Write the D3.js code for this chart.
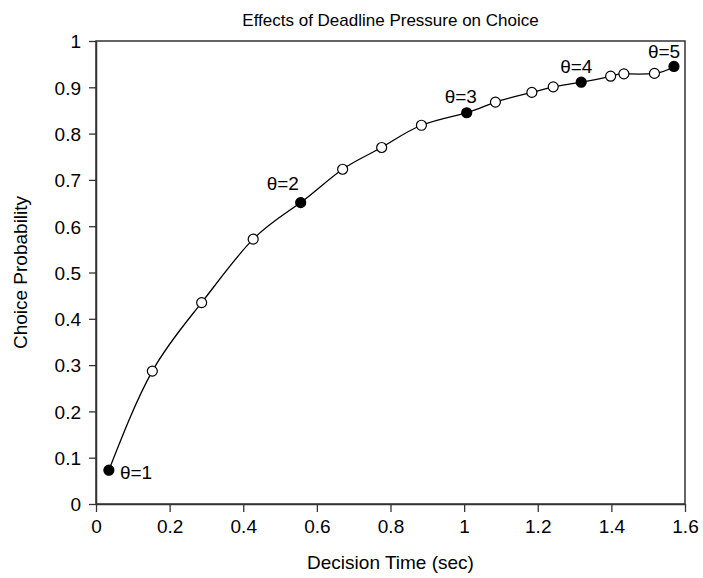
<!DOCTYPE html>
<html>
<head>
<meta charset="utf-8">
<script src="https://cdn.jsdelivr.net/npm/d3@7"></script>
<style>
  body { margin: 0; background: #fff; }
  svg text { font-family: "Liberation Sans", Arial, Helvetica, sans-serif; fill: #000; }
</style>
</head>
<body>
<svg id="chart" width="703" height="578"></svg>
<script>
// Data
var decision_time = [0.035, 0.153, 0.287, 0.427, 0.556, 0.670, 0.776, 0.884, 1.007, 1.085, 1.184, 1.242, 1.318, 1.398, 1.434, 1.517, 1.570]
var choice_prob   = [0.073, 0.287, 0.435, 0.572, 0.651, 0.723, 0.770, 0.818, 0.845, 0.868, 0.889, 0.901, 0.911, 0.924, 0.929, 0.930, 0.945]
// theta value for filled points, null for open ones
var theta = [1, null, null, null, 2, null, null, null, 3, null, null, null, 4, null, null, null, 5]

var x_ticks = [0, 0.2, 0.4, 0.6, 0.8, 1, 1.2, 1.4, 1.6]
var y_ticks = [0, 0.1, 0.2, 0.3, 0.4, 0.5, 0.6, 0.7, 0.8, 0.9, 1]

var title_text = 'Effects of Deadline Pressure on Choice'
var x_title = 'Decision Time (sec)'
var y_title = 'Choice Probability'

// Layout
var margin = {left: 96, right: 18, top: 41, bottom: 74}
var width = 703, height = 578

var svg = d3.select('#chart')

var x = d3.scaleLinear()
  .domain([0, 1.6])
  .range([margin.left, width - margin.right])
var y = d3.scaleLinear()
  .domain([0, 1])
  .range([height - margin.bottom, margin.top])

var points = decision_time.map(function(t, i) {
  return {t: t, p: choice_prob[i], theta: theta[i]}
})

// Frame
svg.append('rect')
  .attr('x', x(0))
  .attr('y', y(1))
  .attr('width', x(1.6) - x(0))
  .attr('height', y(0) - y(1))
  .attr('fill', 'none')
  .attr('stroke', '#333')
  .attr('stroke-width', 1.5)

// Axes
var x_axis = svg.append('g')
  .attr('transform', 'translate(0,' + y(0) + ')')
  .call(d3.axisBottom(x).tickValues(x_ticks).tickFormat(d3.format('')).tickSize(8).tickSizeOuter(0).tickPadding(8))
var y_axis = svg.append('g')
  .attr('transform', 'translate(' + x(0) + ',0)')
  .call(d3.axisLeft(y).tickValues(y_ticks).tickFormat(d3.format('')).tickSize(7).tickSizeOuter(0).tickPadding(8))

;[x_axis, y_axis].forEach(function(ax) {
  ax.select('.domain').attr('stroke', '#333').attr('stroke-width', 1.5)
  ax.selectAll('.tick line').attr('stroke', '#333').attr('stroke-width', 1.3)
  ax.selectAll('.tick text')
    .attr('font-size', 19)
    .attr('font-family', '"Liberation Sans", Arial, sans-serif')
    .attr('fill', '#000')
})
y_axis.selectAll('.tick text').attr('dy', '0.36em')

// Titles
svg.append('text')
  .text(title_text)
  .attr('x', (x(0) + x(1.6)) / 2)
  .attr('y', 26)
  .attr('text-anchor', 'middle')
  .attr('font-size', 17)

svg.append('text')
  .text(x_title)
  .attr('x', (x(0) + x(1.6)) / 2)
  .attr('y', 569)
  .attr('text-anchor', 'middle')
  .attr('font-size', 19)

svg.append('text')
  .text(y_title)
  .attr('transform', 'translate(27,' + (y(0) + y(1)) / 2 + ') rotate(-90)')
  .attr('text-anchor', 'middle')
  .attr('font-size', 19)

// Curve
var line = d3.line()
  .x(function(d) { return x(d.t) })
  .y(function(d) { return y(d.p) })
  .curve(d3.curveNatural)

svg.append('path')
  .datum(points)
  .attr('d', line)
  .attr('fill', 'none')
  .attr('stroke', '#000')
  .attr('stroke-width', 1.3)

// Points
svg.selectAll('circle.pt')
  .data(points)
  .enter()
  .append('circle')
  .attr('class', 'pt')
  .attr('cx', function(d) { return x(d.t) })
  .attr('cy', function(d) { return y(d.p) })
  .attr('r', 5)
  .attr('fill', function(d) { return d.theta ? '#000' : '#fff' })
  .attr('stroke', '#000')
  .attr('stroke-width', 1.2)

// Theta labels, offsets in pixels relative to each filled point
var label_dx = {1: 11, 2: -34, 3: -22, 4: -21, 5: -26}
var label_dy = {1: 9, 2: -13, 3: -10, 4: -9, 5: -8}

svg.selectAll('text.theta')
  .data(points.filter(function(d) { return d.theta }))
  .enter()
  .append('text')
  .attr('class', 'theta')
  .attr('x', function(d) { return x(d.t) + label_dx[d.theta] })
  .attr('y', function(d) { return y(d.p) + label_dy[d.theta] })
  .attr('font-size', 19)
  .text(function(d) { return '\u03b8=' + d.theta })
</script>
</body>
</html>
